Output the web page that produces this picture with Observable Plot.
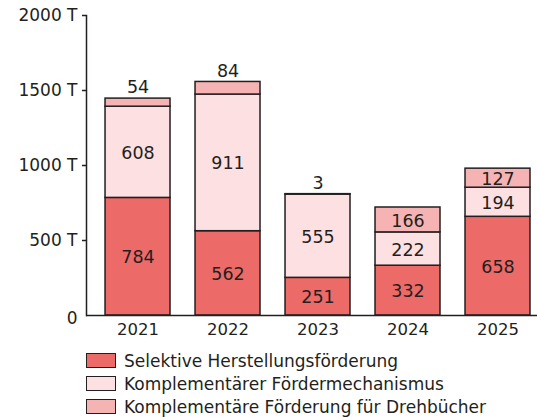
<!DOCTYPE html>
<html>
<head>
<meta charset="utf-8">
<script src="https://cdn.jsdelivr.net/npm/d3@7"></script>
<script src="https://cdn.jsdelivr.net/npm/@observablehq/plot@0.6"></script>
<style>
  html, body { margin: 0; padding: 0; background: #fff; }
  body { position: relative; width: 537px; height: 417px; overflow: hidden; font-family: "DejaVu Sans", sans-serif; color: #231f20; }
  #chart { position: absolute; left: 0; top: 0; }
  #legend { position: absolute; left: 0; top: 349px; }
  .row { display: flex; align-items: center; height: 23px; padding-left: 86px; }
  .sw { width: 28px; height: 13px; border: 1.5px solid #231f20; box-sizing: content-box; margin-right: 8px; flex: none; }
  .lab { font-size: 17px; line-height: 16px; white-space: nowrap; }
</style>
</head>
<body>
<div id="chart"></div>
<div id="legend"></div>
<script>
const years = ["2021", "2022", "2023", "2024", "2025"];
const seriesNames = [
  "Selektive Herstellungsförderung",
  "Komplementärer Fördermechanismus",
  "Komplementäre Förderung für Drehbücher"
];
const selektive = [784, 562, 251, 332, 658];
const komplementaer = [608, 911, 555, 222, 194];
const drehbuecher = [54, 84, 3, 166, 127];
const seriesColors = ["#ec6a68", "#fde0e1", "#f5b4b3"];
const yTicks = [500, 1000, 1500, 2000];

const seriesValues = [selektive, komplementaer, drehbuecher];
const data = [];
seriesNames.forEach((s, si) => {
  years.forEach((yr, i) => data.push({year: yr, series: s, value: seriesValues[si][i]}));
});

const ink = "#231f20";
const font = "'DejaVu Sans', sans-serif";

const chart = Plot.plot({
  width: 537,
  height: 340,
  marginTop: 15,
  marginBottom: 25,
  marginLeft: 86,
  marginRight: 0,
  style: {fontFamily: font, color: ink, background: "#fff", overflow: "visible"},
  x: {domain: years, paddingInner: 0.278, paddingOuter: 0.1447, align: 0.7308, round: false},
  y: {domain: [0, 2000]},
  color: {domain: seriesNames, range: seriesColors},
  marks: [
    Plot.barY(data, Plot.stackY({x: "year", y: "value", fill: "series", order: seriesNames, stroke: ink, strokeWidth: 1.5})),
    Plot.text(data, Plot.stackY({x: "year", y: "value", z: "series", order: seriesNames,
      text: d => d.value >= 100 ? d.value : "", fill: ink, fontSize: 17.5, dy: 1})),
    Plot.text(data, Plot.stackY2({x: "year", y: "value", z: "series", order: seriesNames,
      text: d => d.value < 100 ? d.value : "", fill: ink, fontSize: 17.5, dy: -11})),
    Plot.frame({anchor: "left", stroke: ink, strokeWidth: 1.5}),
    Plot.ruleY([0], {stroke: ink, strokeWidth: 1.5}),
    Plot.axisY({ticks: yTicks, tickFormat: d => d + " T", tickSize: 4, tickPadding: 5, fontSize: 17, stroke: ink, strokeWidth: 1.5, color: ink, label: null}),
    Plot.axisY({ticks: [0], tickFormat: d => String(d), tickSize: 0, tickPadding: 9, dy: 3, fontSize: 17, color: ink, label: null}),
    Plot.axisX({tickSize: 0, tickPadding: 8, fontSize: 16.5, color: ink, label: null})
  ]
});
document.getElementById("chart").appendChild(chart);

const legend = document.getElementById("legend");
seriesNames.forEach((s, i) => {
  const row = document.createElement("div");
  row.className = "row";
  const sw = document.createElement("div");
  sw.className = "sw";
  sw.style.background = seriesColors[i];
  const lab = document.createElement("div");
  lab.className = "lab";
  lab.textContent = s;
  row.appendChild(sw);
  row.appendChild(lab);
  legend.appendChild(row);
});
</script>
</body>
</html>
